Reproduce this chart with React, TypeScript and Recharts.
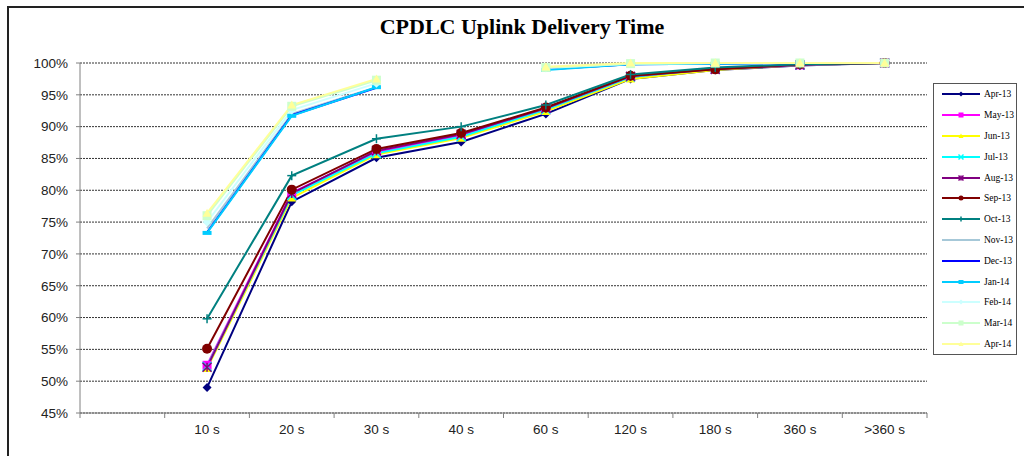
import React from "react";
import { LineChart, Line, XAxis, YAxis, CartesianGrid } from "recharts";

const categories = ["", "10 s", "20 s", "30 s", "40 s", "60 s", "120 s", "180 s", "360 s", ">360 s"];

const apr13 = [null, 49.0, 78.2, 85.1, 87.6, 92.0, 97.5, 98.9, 99.6, 100];
const may13 = [null, 52.5, 79.6, 86.0, 88.6, 92.6, 97.8, 99.0, 99.7, 100];
const jun13 = [null, 52.0, 78.8, 85.6, 88.2, 92.4, 97.5, 98.9, 99.7, 100];
const jul13 = [null, 52.3, 79.2, 85.8, 88.4, 92.7, 97.8, 99.1, 99.7, 100];
const aug13 = [null, 52.2, 79.5, 86.2, 88.8, 92.9, 97.9, 99.0, 99.7, 100];
const sep13 = [null, 55.1, 80.1, 86.5, 89.0, 93.0, 98.0, 99.0, 99.8, 100];
const oct13 = [null, 59.8, 82.3, 88.1, 90.0, 93.4, 98.2, 99.3, 99.8, 100];
const nov13 = [null, 74.0, 92.0, 96.2, null, 99.0, 99.8, 100, 100, 100];
const dec13 = [null, 73.4, 91.8, 96.1, null, 99.0, 99.8, 99.9, 100, 100];
const jan14 = [null, 73.3, 91.7, 96.2, null, 98.9, 99.8, 99.9, 100, 100];
const feb14 = [null, 75.0, 92.6, 96.8, null, 99.2, 99.9, 100, 100, 100];
const mar14 = [null, 76.0, 93.2, 97.3, null, 99.3, 99.9, 100, 100, 100];
const apr14 = [null, 76.4, 93.4, 97.5, null, 99.4, 100, 100, 100, 100];

const yTicks = [45, 50, 55, 60, 65, 70, 75, 80, 85, 90, 95, 100];

const series = [
  { name: "Apr-13", values: apr13, color: "#000080", shape: "diamond" },
  { name: "May-13", values: may13, color: "#ff00ff", shape: "square" },
  { name: "Jun-13", values: jun13, color: "#ffff00", shape: "triangle" },
  { name: "Jul-13", values: jul13, color: "#00ffff", shape: "x" },
  { name: "Aug-13", values: aug13, color: "#800080", shape: "star" },
  { name: "Sep-13", values: sep13, color: "#800000", shape: "circle" },
  { name: "Oct-13", values: oct13, color: "#008080", shape: "plus" },
  { name: "Nov-13", values: nov13, color: "#a6c8d8", shape: "none" },
  { name: "Dec-13", values: dec13, color: "#0000ff", shape: "none" },
  { name: "Jan-14", values: jan14, color: "#00ccff", shape: "dash" },
  { name: "Feb-14", values: feb14, color: "#ccffff", shape: "diamond" },
  { name: "Mar-14", values: mar14, color: "#ccffcc", shape: "square" },
  { name: "Apr-14", values: apr14, color: "#ffff99", shape: "triangle" },
];

const data = categories.map((cat, i) => {
  const row: Record<string, any> = { cat };
  series.forEach((s) => (row[s.name] = s.values[i]));
  return row;
});

const W = 1028;
const H = 456;
const M = { top: 63, right: 101, bottom: 0, left: 0 };
const Y_W = 80;
const X_H = 43;
const PLOT_W = W - M.left - M.right - Y_W;
const HALF_BAND = PLOT_W / categories.length / 2;

function Marker({ cx, cy, shape, color, s }: any) {
  if (cx == null || cy == null || shape === "none") return <g />;
  const h = s / 2;
  switch (shape) {
    case "diamond":
      return <polygon points={`${cx},${cy - h} ${cx + h},${cy} ${cx},${cy + h} ${cx - h},${cy}`} fill={color} />;
    case "square":
      return <rect x={cx - h} y={cy - h} width={s} height={s} fill={color} />;
    case "triangle":
      return <polygon points={`${cx},${cy - h} ${cx + h},${cy + h * 0.8} ${cx - h},${cy + h * 0.8}`} fill={color} />;
    case "x":
      return (
        <g stroke={color} strokeWidth={1.5}>
          <line x1={cx - h} y1={cy - h} x2={cx + h} y2={cy + h} />
          <line x1={cx - h} y1={cy + h} x2={cx + h} y2={cy - h} />
        </g>
      );
    case "star":
      return (
        <g stroke={color} strokeWidth={1.5}>
          <line x1={cx - h} y1={cy - h} x2={cx + h} y2={cy + h} />
          <line x1={cx - h} y1={cy + h} x2={cx + h} y2={cy - h} />
          <line x1={cx} y1={cy - h} x2={cx} y2={cy + h} />
        </g>
      );
    case "circle":
      return <circle cx={cx} cy={cy} r={h} fill={color} />;
    case "plus":
      return (
        <g stroke={color} strokeWidth={1.5}>
          <line x1={cx - h} y1={cy} x2={cx + h} y2={cy} />
          <line x1={cx} y1={cy - h} x2={cx} y2={cy + h} />
        </g>
      );
    case "dash":
      return <rect x={cx - h} y={cy - 2} width={s} height={4} fill={color} />;
    default:
      return <g />;
  }
}

function XTick({ x, y, payload, index }: any) {
  const last = index === categories.length - 1;
  return (
    <g>
      <line x1={x - HALF_BAND} y1={y} x2={x - HALF_BAND} y2={y + 5} stroke="#808080" />
      {last && <line x1={x + HALF_BAND} y1={y} x2={x + HALF_BAND} y2={y + 5} stroke="#808080" />}
      <text x={x} y={y + 21} textAnchor="middle" fontSize={13.5} fill="#222" fontFamily="Liberation Sans, Arial, sans-serif">
        {payload.value}
      </text>
    </g>
  );
}

function LegendBox() {
  return (
    <div
      style={{
        position: "absolute",
        left: 933,
        top: 83,
        width: 84,
        height: 272,
        border: "1px solid #555",
        boxSizing: "border-box",
        background: "#fff",
      }}
    >
      {series.map((s) => (
        <div key={s.name} style={{ height: 20.8, display: "flex", alignItems: "center" }}>
          <svg width={50} height={12} style={{ display: "block" }}>
            <line x1={8} y1={6} x2={46} y2={6} stroke={s.color} strokeWidth={2} />
            <Marker cx={27} cy={6} shape={s.shape} color={s.color} s={5} />
          </svg>
          <span style={{ fontFamily: "Liberation Serif, Times New Roman, serif", fontSize: 9.5, color: "#000" }}>
            {s.name}
          </span>
        </div>
      ))}
    </div>
  );
}

export default function App() {
  return (
    <div style={{ position: "absolute", left: 0, top: 0, width: W, height: H, background: "#fff", overflow: "hidden" }}>
      <div
        style={{
          position: "absolute",
          left: 7,
          top: 6,
          width: 1017,
          height: 470,
          borderTop: "2px solid #222",
          borderLeft: "2px solid #222",
          boxSizing: "border-box",
        }}
      />
      <div
        style={{
          position: "absolute",
          left: 0,
          width: 1044,
          top: 15,
          textAlign: "center",
          fontFamily: "Liberation Serif, Times New Roman, serif",
          fontWeight: "bold",
          fontSize: 22,
          lineHeight: "24px",
          color: "#000",
        }}
      >
        CPDLC Uplink Delivery Time
      </div>
      <div style={{ position: "absolute", left: 0, top: 0 }}>
        <LineChart width={W} height={H} data={data} margin={M}>
          <CartesianGrid horizontal vertical={false} stroke="#333" strokeDasharray="2 1" />
          <XAxis
            dataKey="cat"
            scale="band"
            height={X_H}
            interval={0}
            tickLine={false}
            tickSize={0}
            tickMargin={0}
            axisLine={{ stroke: "#808080" }}
            tick={<XTick />}
          />
          <YAxis
            width={Y_W}
            domain={[45, 100]}
            ticks={yTicks}
            interval={0}
            tickFormatter={(v) => `${v}%`}
            tickSize={4}
            tickMargin={8}
            tickLine={{ stroke: "#808080" }}
            axisLine={{ stroke: "#808080" }}
            tick={{ fontSize: 13.5, fill: "#222", fontFamily: "Liberation Sans, Arial, sans-serif" }}
          />
          {series.map((s) => (
            <Line
              key={s.name}
              dataKey={s.name}
              stroke={s.color}
              strokeWidth={2}
              isAnimationActive={false}
              dot={(p: any) => (
                <Marker key={`${s.name}-${p.index}`} cx={p.cx} cy={p.cy} shape={s.shape} color={s.color} s={s.shape === "circle" ? 10 : 9} />
              )}
              activeDot={false}
            />
          ))}
        </LineChart>
      </div>
      <LegendBox />
    </div>
  );
}
